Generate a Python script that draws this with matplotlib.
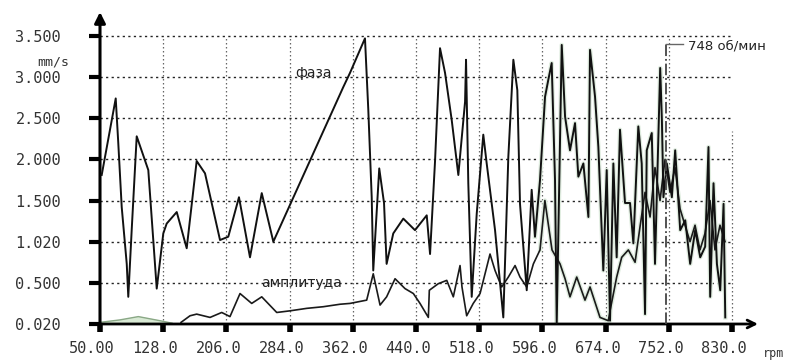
import matplotlib
matplotlib.use('Agg')
import matplotlib.pyplot as plt
import numpy as np
from matplotlib.transforms import ScaledTranslation

# ---- data ----
phase_rpm = [52.1, 69.4, 72.6, 76.8, 83.0, 84.9, 89.1, 95.3, 109.6, 120.0, 128.1, 132.3, 144.7, 157.0,
             169.3, 179.6, 198.1, 208.3, 221.5, 235.1, 249.6, 263.9, 350.3, 358.5, 377.0, 381.1,
             385.3, 387.2, 394.6, 400.5, 403.7, 411.9, 424.3, 438.7, 453.2, 457.3, 463.4, 469.6,
             475.8, 484.0, 492.2, 500.5, 501.7, 504.5, 508.7, 514.9, 523.0, 527.2, 537.5, 547.7,
             553.9, 560.1, 565.0, 568.3, 576.6, 582.7, 586.8, 593.0, 599.2, 603.3, 607.4, 611.5,
             613.6, 619.8, 623.9, 630.0, 636.2, 640.3, 646.5, 652.7, 654.7, 660.9, 665.0, 671.1,
             675.3, 679.4, 683.5, 687.6, 691.7, 697.9, 704.1, 708.2, 714.3, 718.5, 722.6, 724.7,
             730.9, 734.9, 741.3, 743.4, 745.3, 749.5, 755.7, 759.8, 766.0, 772.2, 778.3, 784.5,
             790.7, 796.8, 800.9, 803.0, 807.1, 811.3, 815.4, 819.5, 821.6]
phase_val = [1.81, 2.74, 2.19, 1.42, 0.73, 0.33, 1.14, 2.28, 1.87, 0.43, 1.10, 1.22, 1.36, 0.92,
             1.98, 1.83, 1.02, 1.06, 1.54, 0.81, 1.59, 1.00, 2.88, 3.05, 3.47, 2.60,
             1.54, 0.65, 1.89, 1.47, 0.73, 1.10, 1.28, 1.14, 1.32, 0.85, 1.97, 3.35,
             3.05, 2.48, 1.81, 2.70, 3.21, 1.71, 0.33, 1.34, 2.30, 1.95, 1.14, 0.08,
             2.03, 3.21, 2.84, 1.46, 0.41, 1.63, 1.06, 1.75, 2.76, 2.97, 3.17, 1.75,
             0.00, 3.39, 2.52, 2.11, 2.44, 1.79, 1.95, 1.30, 3.33, 2.76, 2.15, 0.65,
             1.87, 0.04, 1.95, 0.81, 2.36, 1.47, 1.47, 0.98, 2.40, 1.95, 0.12, 2.11,
             2.32, 0.73, 3.11, 2.48, 1.54, 1.95, 1.54, 2.11, 1.14, 1.26, 0.73, 1.14,
             0.81, 0.94, 2.15, 0.33, 1.71, 0.73, 0.41, 1.46, 0.08]

amp_start_rpm = [50.0, 74.7, 97.3, 124.0, 138.9]
amp_start_val = [0.02, 0.05, 0.09, 0.04, 0.01]

amp_rpm = [150.0, 161.1, 169.3, 185.8, 200.2, 210.4, 222.8, 237.2, 249.6, 268.1, 284.5, 305.1,
           325.6, 346.2, 358.5, 379.1, 387.2, 395.6, 403.7, 414.1, 426.4, 436.7, 444.9, 455.2,
           456.4, 467.5, 477.9, 486.0, 494.3, 496.7, 502.5, 510.6, 519.0, 531.3, 537.5, 545.7,
           553.9, 562.2, 568.3, 576.6, 584.8, 593.0, 599.0, 607.8, 617.7, 623.9, 630.0, 638.3,
           648.5, 654.7, 667.0, 677.3, 679.4, 687.6, 693.8, 702.0, 710.3, 716.4, 722.6, 728.8,
           734.9, 741.1, 747.3, 753.4, 759.6, 765.8, 771.9, 778.1, 784.3, 790.4, 796.6, 802.8,
           808.9, 815.1, 821.3]
amp_val = [0.02, 0.10, 0.12, 0.08, 0.14, 0.09, 0.37, 0.25, 0.33, 0.14, 0.16, 0.19,
           0.21, 0.24, 0.25, 0.29, 0.61, 0.23, 0.33, 0.55, 0.43, 0.37, 0.25, 0.08,
           0.41, 0.49, 0.53, 0.33, 0.71, 0.45, 0.10, 0.25, 0.37, 0.85, 0.65, 0.45,
           0.57, 0.71, 0.57, 0.45, 0.73, 0.90, 1.50, 0.90, 0.73, 0.55, 0.33, 0.57,
           0.29, 0.45, 0.08, 0.04, 0.16, 0.57, 0.81, 0.90, 0.75, 1.18, 1.60, 1.30,
           1.90, 1.50, 2.00, 1.60, 1.90, 1.40, 1.20, 1.00, 1.20, 0.90, 1.10, 1.50,
           0.90, 1.20, 1.00]

x_ticks = [50, 128, 206, 284, 362, 440, 518, 596, 674, 752, 830]
x_labels = ['50.00', '128.0', '206.0', '284.0', '362.0', '440.0', '518.0', '596.0', '674.0', '752.0', '830.0']
y_ticks = [0.0, 0.5, 1.0, 1.5, 2.0, 2.5, 3.0, 3.5]
y_labels = ['0.020', '0.500', '1.020', '1.500', '2.000', '2.500', '3.000', '3.500']

marker_rpm = 748
marker_label = '748 об/мин'
phase_label = 'фаза'
amp_label = 'амплитуда'

# ---- figure ----
fig = plt.figure(figsize=(7.9, 3.62), dpi=100)
ax = fig.add_axes([100 / 790, 38 / 362, 658 / 790, 312 / 362])
ax.set_xlim(50, 862)
ax.set_ylim(0, 3.79)
for s in ax.spines.values():
    s.set_visible(False)

# grid
ax.hlines(y_ticks[1:], 50, 830, colors='#222222', linestyles=(0, (1.6, 2.4)), lw=1.0, zorder=0)
ax.vlines(x_ticks[1:-1], 0, 3.5, colors='#666666', linestyles=(0, (1.2, 2.0)), lw=0.9, zorder=0)
ax.vlines(x_ticks[-1:], 0, 2.35, colors='#666666', linestyles=(0, (1.2, 2.0)), lw=0.9, zorder=0)

# series
pr = np.array(phase_rpm); pv = np.array(phase_val)
ar = np.array(amp_rpm); av = np.array(amp_val)
m = pr >= 585
ax.plot(pr[m], pv[m], color='#e0ede0', lw=3.2, zorder=1)
ma = ar >= 585
ax.plot(ar[ma], av[ma], color='#e0ede0', lw=3.2, zorder=1)
ax.fill_between(amp_start_rpm, amp_start_val, color='#d8e9d4', zorder=1)
ax.plot(amp_start_rpm, amp_start_val, color='#8aa886', lw=1.0, zorder=2)
ax.plot(ar, av, color='#1a1a1a', lw=1.2, zorder=3)
ax.plot(pr, pv, color='#111111', lw=1.4, zorder=4)

# marker line
ax.vlines([marker_rpm], 0, 3.42, colors='#444444', linestyles='dashdot', lw=1.3, zorder=5)
ax.plot([marker_rpm, marker_rpm + 22], [3.40, 3.40], color='#666666', lw=1.0, zorder=5)
ax.text(marker_rpm + 28, 3.38, marker_label, fontsize=9.5, family='DejaVu Sans',
        ha='left', va='center', color='#222222')

# series labels
ax.text(314, 3.05, phase_label, fontsize=10, family='DejaVu Sans', ha='center', va='center',
        color='#222222', zorder=6)
ax.text(299, 0.50, amp_label, fontsize=10, family='DejaVu Sans', ha='center', va='center',
        color='#222222', zorder=6)

# axes arrows
ax.annotate('', xy=(0, 1.0), xytext=(0, 0), xycoords='axes fraction',
            arrowprops=dict(arrowstyle='-|>', color='black', lw=2.2, mutation_scale=16,
                            shrinkA=0, shrinkB=0))
ax.annotate('', xy=(1.0, 0), xytext=(0, 0), xycoords='axes fraction',
            arrowprops=dict(arrowstyle='->', color='black', lw=2.0, mutation_scale=14,
                            shrinkA=0, shrinkB=0))

# ticks
ax.set_xticks(x_ticks)
ax.set_xticklabels(x_labels, family='DejaVu Sans Mono', fontsize=11, color='#333333')
ax.set_yticks(y_ticks)
ax.set_yticklabels(y_labels, family='DejaVu Sans Mono', fontsize=11, color='#333333')
ax.tick_params(axis='y', direction='out', length=8, width=3, pad=20, color='black')
ax.tick_params(axis='x', direction='out', length=6, width=4, pad=6, color='black')
off = ScaledTranslation(-8 / 100, 0, fig.dpi_scale_trans)
for lab in ax.get_xticklabels():
    lab.set_transform(lab.get_transform() + off)

fig.text(53 / 790, 1 - 62 / 362, 'mm/s', family='DejaVu Sans Mono', fontsize=9.5,
         ha='center', va='center', color='#333333')
fig.text(774 / 790, 1 - 354 / 362, 'rpm', family='DejaVu Sans Mono', fontsize=8.5,
         ha='center', va='center', color='#333333')

fig.savefig('out.png', dpi=100)
